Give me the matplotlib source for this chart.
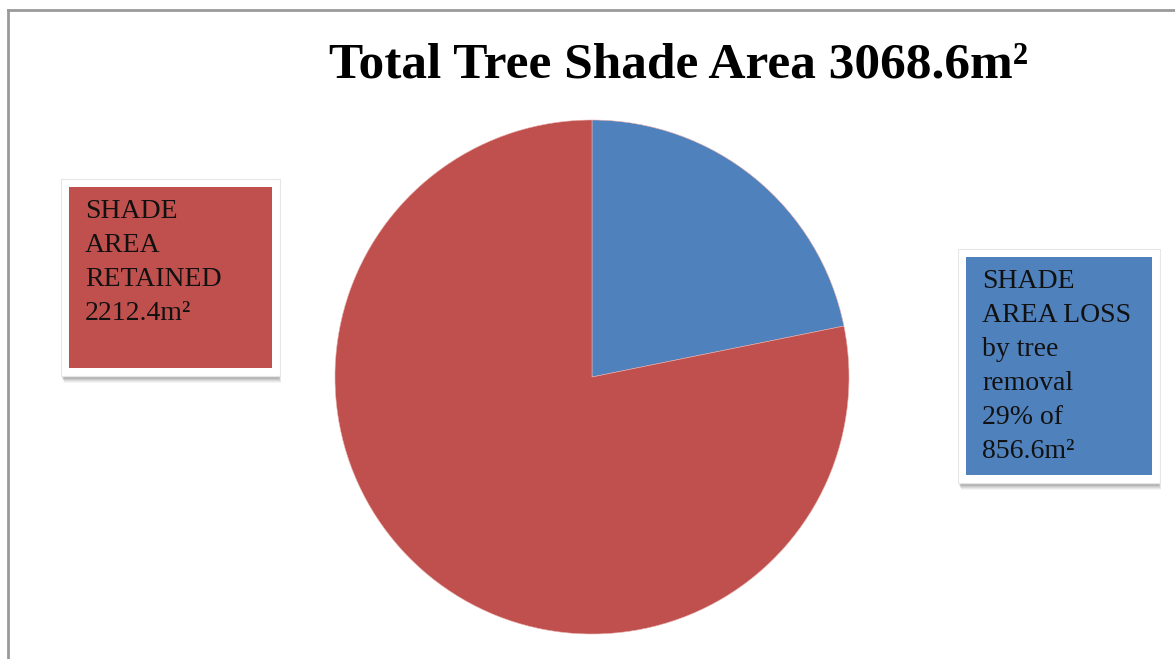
import matplotlib.pyplot as plt
from matplotlib.patches import Rectangle
from matplotlib.lines import Line2D

# pie data (as drawn in the chart: loss vs. total)
slice_names = ['SHADE AREA LOSS', 'TOTAL']
slice_values = [856.6, 3068.6]
slice_colors = ['#4F81BD', '#C0504D']

title_text = 'Total Tree Shade Area 3068.6m²'
retained_text = 'SHADE\nAREA\nRETAINED\n2212.4m²'
loss_text = 'SHADE\nAREA LOSS\nby tree\nremoval\n29% of\n856.6m²'

W, H = 1175, 659
plt.rcParams['font.family'] = ['Liberation Serif', 'DejaVu Serif']

fig = plt.figure(figsize=(W / 100, H / 100), dpi=100)


def fx(px):
    return px / W


def fy(py):
    return 1 - py / H


# chart frame (only top and left visible)
fig.add_artist(Line2D([fx(8), fx(8)], [fy(10), fy(H)], color='#9a9a9a', lw=2))
fig.add_artist(Line2D([fx(8), fx(W)], [fy(10), fy(10)], color='#9a9a9a', lw=2))

# pie
cx, cy, r = 592, 377, 257
ax = fig.add_axes([fx(cx - r), fy(cy + r), (2 * r) / W, (2 * r) / H])
ax.pie(slice_values, colors=slice_colors, startangle=90, counterclock=False,
       radius=1, wedgeprops=dict(edgecolor='#e8b0ae', linewidth=0.4))
ax.set_xlim(-1, 1)
ax.set_ylim(-1, 1)
ax.set_aspect('equal')
ax.axis('off')

fig.text(fx(679), fy(77), title_text, ha='center', va='baseline',
         fontsize=37, fontweight='bold')


def label_box(x0, y0, x1, y1, color, text):
    # soft shadow
    for i, a in enumerate([0.06, 0.08, 0.10, 0.12, 0.14]):
        d = 5 - i
        fig.add_artist(Rectangle((fx(x0 - 8 + 1 + d * 0.4), fy(y1 + 8 + 2 + d)),
                                 fx(x1 - x0 + 16 - 2), (y1 - y0 + 16) / H,
                                 transform=fig.transFigure, facecolor='#555555',
                                 edgecolor='none', alpha=a))
    fig.add_artist(Rectangle((fx(x0 - 8), fy(y1 + 8)), fx(x1 - x0 + 16), (y1 - y0 + 16) / H,
                             transform=fig.transFigure, facecolor='white',
                             edgecolor='#e6e6e6', linewidth=0.8))
    fig.add_artist(Rectangle((fx(x0), fy(y1)), fx(x1 - x0), (y1 - y0) / H,
                             transform=fig.transFigure, facecolor=color, edgecolor='none'))
    fig.text(fx(x0 + 16), fy(y0 + 12), text, ha='left', va='top',
             fontsize=20, linespacing=1.47, color='#111111')


label_box(69, 187, 272, 368, slice_colors[1], retained_text)
label_box(966, 257, 1152, 475, slice_colors[0], loss_text)

fig.savefig('out.png', dpi=100)
